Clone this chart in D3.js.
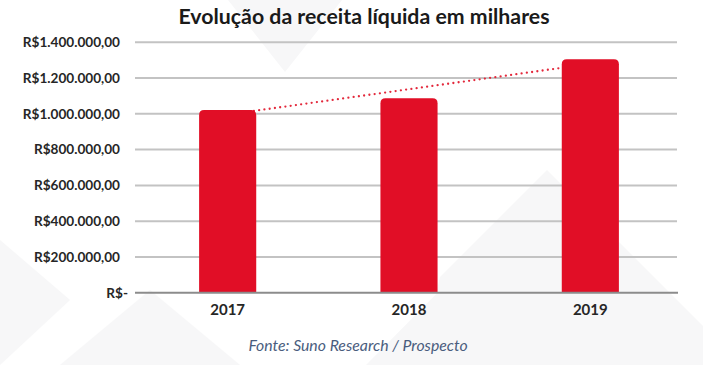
<!DOCTYPE html>
<html><head><meta charset="utf-8">
<script src="https://cdn.jsdelivr.net/npm/d3@7"></script>
<style>body{margin:0;background:#fff}svg{display:block}</style>
</head><body><svg id="c" width="703" height="365"></svg>
<script>
const categories = ["2017", "2018", "2019"];
const values = [1021000, 1087000, 1305000];
const yTicks = [0, 200000, 400000, 600000, 800000, 1000000, 1200000, 1400000];
const yTickLabels = ["R$-", "R$200.000,00", "R$400.000,00", "R$600.000,00", "R$800.000,00", "R$1.000.000,00", "R$1.200.000,00", "R$1.400.000,00"];
const titleText = "Evolução da receita líquida em milhares";
const sourceText = "Fonte: Suno Research / Prospecto";

const svg = d3.select("#c");
const W = 703, H = 365;

// faint background shapes
const bg = svg.append("g");
bg.append("rect").attr("width", W).attr("height", H).attr("fill", "#ffffff");
const shapes = [
  [[228,0],[342,0],[285,72]],
  [[547,170],[703,326],[703,365],[420,365],[440,277]],
  [[453,277],[540,365],[366,365]],
  [[0,240],[70,300],[0,365]],
  [[60,365],[150,290],[240,365]]
];
bg.selectAll("polygon").data(shapes).join("polygon")
  .attr("points", d => d.map(p => p.join(",")).join(" "))
  .attr("fill", "#f7f7f8");

const x = d3.scaleBand().domain(categories).range([137, 681]).paddingInner(0.685).paddingOuter(0.3425);
const y = d3.scaleLinear().domain([0, 1400000]).range([292.7, 42.3]);
const gx0 = 135, gx1 = 677;

// gridlines
svg.append("g").selectAll("line").data(yTicks.filter(v => v > 0)).join("line")
  .attr("x1", gx0).attr("x2", gx1)
  .attr("y1", d => y(d)).attr("y2", d => y(d))
  .attr("stroke", "#c3c3c3").attr("stroke-width", 2);

// y labels
svg.append("g").selectAll("text").data(yTicks).join("text")
  .attr("x", (d, i) => d === 0 ? 128 : 120)
  .attr("y", d => y(d) + 4.8)
  .attr("text-anchor", "end")
  .attr("font-family", "Lato, 'Open Sans', sans-serif")
  .attr("font-weight", "bold").attr("font-size", 13.6)
  .attr("fill", "#262626")
  .text((d, i) => yTickLabels[i]);

// linear trend line (least squares)
const n = values.length;
const xs = d3.range(n);
const mx = d3.mean(xs), my = d3.mean(values);
const slope = d3.sum(xs, i => (i - mx) * (values[i] - my)) / d3.sum(xs, i => (i - mx) * (i - mx));
const icpt = my - slope * mx;
const cx = i => x(categories[i]) + x.bandwidth() / 2;
svg.append("line")
  .attr("x1", cx(0)).attr("y1", y(icpt))
  .attr("x2", cx(n - 1)).attr("y2", y(icpt + slope * (n - 1)))
  .attr("stroke", "#e3283b").attr("stroke-width", 2.3)
  .attr("stroke-linecap", "round").attr("stroke-dasharray", "0 5.3");

// bars with rounded tops
const r = 5;
svg.append("g").selectAll("path").data(values).join("path")
  .attr("d", (v, i) => {
    const x0 = x(categories[i]), w = x.bandwidth(), t = y(v), b = y(0);
    return `M${x0},${b} L${x0},${t + r} Q${x0},${t} ${x0 + r},${t} L${x0 + w - r},${t} Q${x0 + w},${t} ${x0 + w},${t + r} L${x0 + w},${b} Z`;
  })
  .attr("fill", "#e10e26");

// baseline
svg.append("line").attr("x1", gx0).attr("x2", gx1 + 1)
  .attr("y1", y(0)).attr("y2", y(0))
  .attr("stroke", "#8c8c8c").attr("stroke-width", 2);

// category labels
svg.append("g").selectAll("text").data(categories).join("text")
  .attr("x", d => x(d) + x.bandwidth() / 2)
  .attr("y", 315)
  .attr("text-anchor", "middle")
  .attr("font-family", "Lato, 'Open Sans', sans-serif")
  .attr("font-weight", "bold").attr("font-size", 15)
  .attr("fill", "#262626")
  .text(d => d);

// title
svg.append("text").attr("x", 364).attr("y", 24)
  .attr("text-anchor", "middle")
  .attr("font-family", "Lato, 'Open Sans', sans-serif")
  .attr("font-weight", "bold").attr("font-size", 21.3)
  .attr("fill", "#1a1a1a")
  .text(titleText);

// source
svg.append("text").attr("x", 358).attr("y", 351)
  .attr("text-anchor", "middle")
  .attr("font-family", "Lato, 'Open Sans', sans-serif")
  .attr("font-style", "italic").attr("font-size", 15.8)
  .attr("fill", "#4a5d7e")
  .text(sourceText);
</script></body></html>
